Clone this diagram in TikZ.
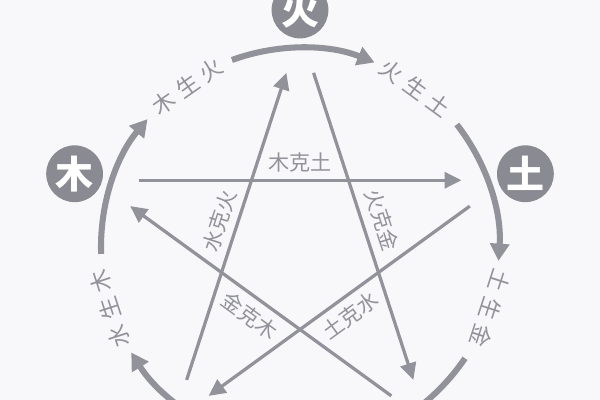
\documentclass[tikz,border=0pt]{standalone}
\usepackage{fontspec}
\newfontfamily\cjk{Noto Sans CJK SC}
\usetikzlibrary{arrows.meta}
\definecolor{wxgray}{RGB}{146,146,154}
\definecolor{wxfill}{RGB}{138,138,146}
\definecolor{wxback}{RGB}{248,248,250}
\newcommand{\spread}[3]{#1\hskip 4.5pt#2\hskip 4.5pt#3}

\begin{document}
\begin{tikzpicture}[x=0.025cm,y=0.025cm]
\tikzstyle{every node}+=[inner sep=0pt]
\tikzstyle{element}=[circle, fill=wxfill, minimum size=1.42cm, text=white, font=\cjk\bfseries\fontsize{27}{27}\selectfont]
\tikzstyle{sheng}=[wxgray, line width=4.3pt, -{Triangle[length=0.43cm,width=0.47cm]}]
\tikzstyle{kearrow}=[wxgray, line width=2.3pt, shorten <=1.1cm, shorten >=1.1cm, -{Triangle[length=0.42cm,width=0.4cm]}]
\tikzstyle{flow}=[text=wxgray, font=\cjk\fontsize{16}{16}\selectfont]
\tikzstyle{ke}=[text=wxgray, font=\cjk\fontsize{15}{15}\selectfont, sloped, midway]
\useasboundingbox (-300,-153) rectangle (300,247);
\fill [wxback] (-300,-153) rectangle (300,247);
\clip (-300,-153) rectangle (300,247);
% elements
\node (huo) [element] at (90:237) {火};
\node (mu) [element] at (162:237) {木};
\node (tu) [element] at (18:237) {土};
% star corners
\coordinate (s-huo) at (90:216);
\coordinate (s-mu) at (162:216);
\coordinate (s-tu) at (18:216);
\coordinate (s-shui) at (234:216);
\coordinate (s-jin) at (306:216);
% generating circle
\draw [sheng] (110:199) arc (110:68:199);
\draw [sheng] (38:199) arc (38:-4:199);
\draw [sheng] (326:199) arc (326:284:199);
\draw [sheng] (254:199) arc (254:212:199);
\draw [sheng] (182:199) arc (182:140:199);
\node (mu-huo) [flow, rotate=35] at (125:196) {\spread{木}{生}{火}};
\node (huo-tu) [flow, rotate=-36] at (54:196) {\spread{火}{生}{土}};
\node (tu-jin) [flow, rotate=-108] at (-18:200) {\spread{土}{生}{金}};
\node (shui-mu) [flow, rotate=108] at (198:200) {\spread{水}{生}{木}};
% overcoming star
\draw [kearrow] (s-mu) -- node[ke, above=0.17cm] {木克土} (s-tu);
\draw [kearrow] (s-huo) -- node[ke, above=0.2cm] {火克金} (s-jin);
\draw [kearrow] (s-tu) -- node[ke, below=0.17cm] {土克水} (s-shui);
\draw [kearrow] (s-jin) -- node[ke, below=0.17cm] {金克木} (s-mu);
\draw [kearrow] (s-shui) -- node[ke, above=0.17cm] {水克火} (s-huo);
\end{tikzpicture}
\end{document}
